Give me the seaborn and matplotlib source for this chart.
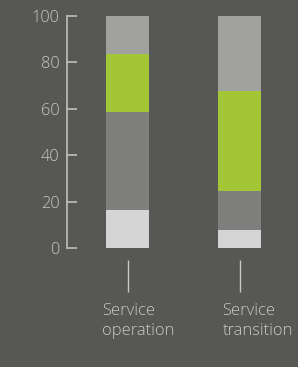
import seaborn as sns
import pandas as pd
import matplotlib.pyplot as plt

# share of each segment per category (bottom to top), percent
categories = ["Service\noperation", "Service\ntransition"]
light_part = [16.5, 8.0]
mid_part = [42.1, 16.7]
green_part = [25.0, 42.9]
top_part = [16.4, 32.4]

bg = "#575755"
fg = "#c8c8c6"
layer_colors = ["#d4d4d4", "#7f7f7d", "#a3c636", "#a1a19f"]

df = pd.DataFrame({
    "cat": categories,
    "l1": light_part,
    "l2": mid_part,
    "l3": green_part,
    "l4": top_part,
})
layers = ["l1", "l2", "l3", "l4"]
cum = df[layers].cumsum(axis=1)

sns.set_theme(style="white")
plt.rcParams["font.family"] = ["Open Sans", "DejaVu Sans"]

fig = plt.figure(figsize=(2.98, 3.67), dpi=100, facecolor=bg)
ax = fig.add_axes([0.224, 0.3229, 0.749, 0.6343])
ax.set_facecolor(bg)

# stack by drawing cumulative heights from the tallest down
for col, color in reversed(list(zip(layers, layer_colors))):
    sns.barplot(x=df["cat"], y=cum[col], color=color, width=0.384,
                saturation=1, linewidth=0, edgecolor="none", ax=ax, zorder=2)

ax.set_xlim(-0.545, 1.448)
ax.set_ylim(0, 100)
ax.set_yticks([0, 20, 40, 60, 80, 100])
ax.tick_params(axis="y", direction="in", length=7.2, width=1.1, color=fg,
               labelcolor=fg, labelsize=11.8, pad=5.3, left=True)
for t in ax.get_yticklabels():
    t.set_fontweight("light")
ax.set_xticks([])
ax.set_xlabel("")
ax.set_ylabel("")
for s in ["top", "right", "bottom"]:
    ax.spines[s].set_visible(False)
ax.spines["left"].set_color(fg)
ax.spines["left"].set_linewidth(1.1)

# category markers and labels under the bars
ax.vlines(range(len(categories)), -5, -18.8, color=fg, lw=1.0, clip_on=False)
label_shift = [-0.228, -0.156]
for i, (lab, dx) in enumerate(zip(categories, label_shift)):
    ax.text(i + dx, -23.2, lab, ha="left", va="top", color=fg, fontsize=11.9,
            fontweight="light", linespacing=1.38, clip_on=False)

fig.savefig("out.png", dpi=100, facecolor=bg)
